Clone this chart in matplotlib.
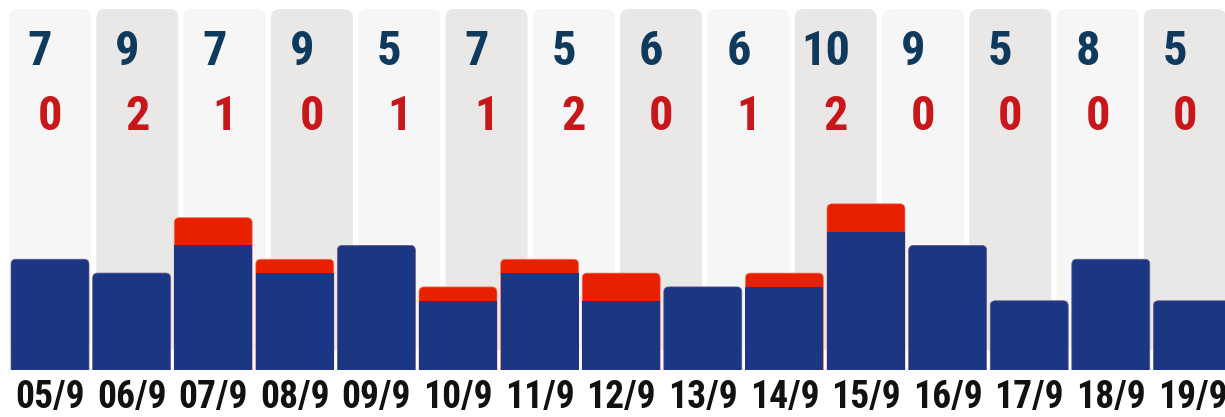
import os
import glob
import matplotlib
matplotlib.use('Agg')
import matplotlib.pyplot as plt
from matplotlib import font_manager as fm
from matplotlib.font_manager import FontProperties
from matplotlib.textpath import TextPath
from matplotlib.patches import FancyBboxPatch
from matplotlib.transforms import blended_transform_factory

# ---- data ----
dates = ['05/9', '06/9', '07/9', '08/9', '09/9', '10/9', '11/9', '12/9',
         '13/9', '14/9', '15/9', '16/9', '17/9', '18/9', '19/9']
blue_vals = [8, 7, 9, 7, 9, 5, 7, 5, 6, 6, 10, 9, 5, 8, 5]
red_vals = [0, 0, 2, 1, 0, 1, 1, 2, 0, 1, 2, 0, 0, 0, 0]
# top panel shows the last 14 days
top_blue = blue_vals[1:]
top_red = red_vals[1:]

C_BLUE = '#1b3784'
C_RED = '#e82000'
C_TBLUE = '#0e3a5e'
C_TRED = '#c8171a'
BG = ['#f6f6f6', '#eae8e7']


def pick_font():
    files = set(f.fname for f in fm.fontManager.ttflist)
    for d in ['/usr/share/fonts', '/usr/local/share/fonts',
              os.path.expanduser('~/.fonts')]:
        files.update(glob.glob(os.path.join(d, '**', '*.[to]tf'), recursive=True))
    files = sorted(files)
    prefs = ['NotoSans-ExtraCondensedBold', 'NotoSans-CondensedBold',
             'LiberationSansNarrow-Bold', 'RobotoCondensed-Bold',
             'OpenSans-CondBold', 'OpenSansCondensed-Bold',
             'DejaVuSansCondensed-Bold', 'NotoSans-SemiCondensedBold']
    for p in prefs:
        for f in files:
            if os.path.basename(f).startswith(p):
                return FontProperties(fname=f)
    for f in files:
        b = os.path.basename(f).lower()
        if ('condensed' in b or 'narrow' in b) and 'bold' in b and 'semi' not in b \
                and 'extrabold' not in b and 'italic' not in b:
            return FontProperties(fname=f)
    return FontProperties(family='DejaVu Sans', weight='bold')


FP = pick_font()


def ink(s, fp):
    e = TextPath((0, 0), s, size=1, prop=fp).get_extents()
    return e.width * 100 / 72, e.height * 100 / 72


def fit(samples_w, target_h, fp):
    """fontsize so digits have given ink height, limited by widths."""
    _, h1 = ink('0', fp)
    size = target_h / h1
    for s, tw in samples_w:
        w1, _ = ink(s, fp)
        size = min(size, tw / w1)
    return size


FS_DATE = fit([('05/9', 66)], 30, FP)
FS_TOP = fit([('10', 43)], 37, FP)

W, H = 1225, 417
fig = plt.figure(figsize=(W / 100, H / 100), dpi=100)


def rounded(ax, patch, r_px, px_x, px_y, extend_bottom=True, **kw):
    """Replace a bar patch with a rounded box (radius in pixels)."""
    x0, y0 = patch.get_x(), patch.get_y()
    w, h = patch.get_width(), patch.get_height()
    rx = r_px / px_x
    ry = r_px / px_y
    if extend_bottom:
        y0 -= ry
        h += ry
    p = FancyBboxPatch((x0, y0), w, h,
                       boxstyle=f"round,pad=0,rounding_size={rx}",
                       mutation_aspect=ry / rx, **kw)
    ax.add_patch(p)
    patch.remove()
    return p


# ---- background columns (14 days) ----
col_pitch = 87.3
col_w = 82
bg_bottom, bg_top = 67, 408
bx = fig.add_axes([0, bg_bottom / H, 1, (bg_top - bg_bottom) / H])
bx.set_xlim(-50 / col_pitch, (W - 50) / col_pitch)
bx.set_ylim(0, 1)
bx.axis('off')
ncol = len(top_blue)
cols = bx.bar(range(ncol), [1] * ncol, width=col_w / col_pitch)
for i, p in enumerate(cols):
    rounded(bx, p, 9, col_pitch, (bg_top - bg_bottom), extend_bottom=False,
            facecolor=BG[i % 2], edgecolor='none')

tr = blended_transform_factory(bx.transData, fig.transFigure)
for i, (b, r) in enumerate(zip(top_blue, top_red)):
    bx.text(i - 10 / col_pitch, 1 - 65 / H, str(b), transform=tr,
            ha='center', va='baseline', fontproperties=FP, fontsize=FS_TOP,
            color=C_TBLUE)
    bx.text(i, 1 - 130 / H, str(r), transform=tr,
            ha='center', va='baseline', fontproperties=FP, fontsize=FS_TOP,
            color=C_TRED)

# ---- bars (15 days) ----
bar_pitch = 81.6
bar_w = 78
unit_px = 13.85
base_px = 47
ax = fig.add_axes([0, base_px / H, 1, (H - base_px) / H])
ax.set_xlim(-50 / bar_pitch, (W - 50) / bar_pitch)
ax.set_ylim(0, (H - base_px) / unit_px)
ax.axis('off')
x = list(range(len(dates)))
totals = [b + r for b, r in zip(blue_vals, red_vals)]

tot_bars = ax.bar(x, totals, width=bar_w / bar_pitch)
for i, p in enumerate(tot_bars):
    if red_vals[i] > 0:
        rounded(ax, p, 5, bar_pitch, unit_px, facecolor=C_RED,
                edgecolor='#f08070', linewidth=0.5)
    else:
        p.remove()

blue_bars = ax.bar(x, blue_vals, width=bar_w / bar_pitch, color=C_BLUE,
                   edgecolor='none')
for i, p in enumerate(blue_bars):
    if red_vals[i] == 0:
        rounded(ax, p, 5, bar_pitch, unit_px, facecolor=C_BLUE,
                edgecolor='#6a5a8a', linewidth=0.5)

trl = blended_transform_factory(ax.transData, fig.transFigure)
for i, d in enumerate(dates):
    ax.text(i, 1 / H, d, transform=trl, ha='center', va='bottom',
            fontproperties=FP, fontsize=FS_DATE, color='#111111')

fig.savefig('out.png', dpi=100, facecolor='white')
